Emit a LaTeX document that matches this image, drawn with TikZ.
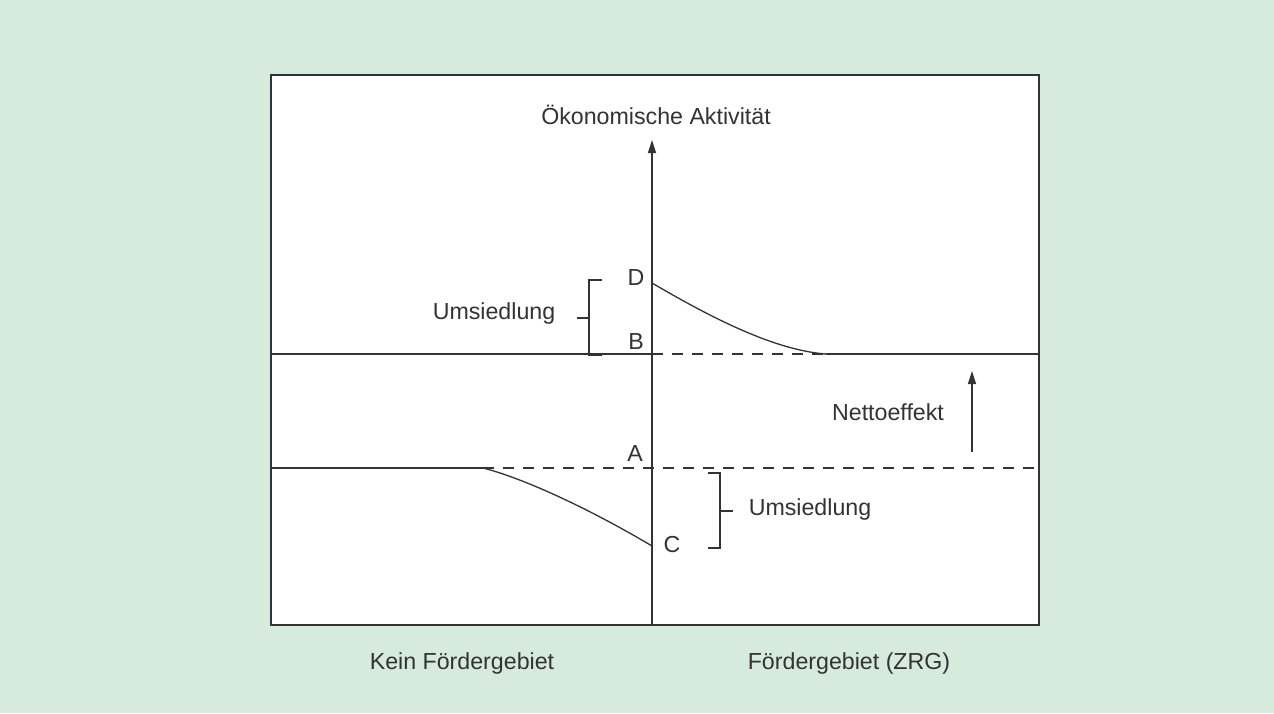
\documentclass[tikz,border=0pt]{standalone}
\usepackage{fontspec}
\setmainfont{Liberation Sans}
\usetikzlibrary{arrows.meta, positioning}
\definecolor{bgmint}{RGB}{214,235,221}
\definecolor{inkgray}{RGB}{51,51,51}

\begin{document}
\begin{tikzpicture}[
  x=0.5pt, y=-0.5pt,
  lbl/.style={inner sep=0pt, text=inkgray, font=\fontsize{11.6}{14}\selectfont},
  axis/.style={draw=inkgray, line width=0.65pt},
  curve/.style={draw=inkgray, line width=0.65pt},
  dashline/.style={draw=inkgray, line width=0.65pt, dash pattern=on 5.5pt off 4.5pt},
  arrow/.style={-{Triangle[length=6.5pt, width=4pt]}, axis},
  brace/.style={draw=inkgray, line width=0.6pt},
]
  \useasboundingbox[fill=bgmint] (0,0) rectangle (1274,713);

  % Frame
  \draw[fill=white, draw=inkgray, line width=1pt] (271,75) rectangle (1039,625);

  % Key points
  \coordinate (origin) at (652,625);
  \coordinate (top) at (652,140);
  \coordinate (upLeft) at (271,354);
  \coordinate (pB) at (652,354);
  \coordinate (pD) at (652,283);
  \coordinate (upEnd) at (826,354);
  \coordinate (upRight) at (1039,354);
  \coordinate (lowLeft) at (271,468);
  \coordinate (lowStart) at (483,468);
  \coordinate (pA) at (652,468);
  \coordinate (pC) at (652,546);
  \coordinate (lowRight) at (1039,468);

  % Axis
  \draw[arrow] (origin) -- (top);
  \node[lbl] (ylabel) at (656,115) {Ökonomische Aktivität};

  % Upper level
  \draw[axis] (upLeft) -- (pB);
  \draw[dashline] (pB) -- (upEnd);
  \draw[axis] (upEnd) -- (upRight);
  \draw[curve] (pD) .. controls (700,311) and (770,350) .. (upEnd);

  % Lower level
  \draw[axis] (lowLeft) -- (lowStart);
  \draw[dashline] (lowStart) -- (lowRight);
  \draw[curve] (lowStart) .. controls (530,480) and (600,515) .. (pC);

  % Point labels
  \node[lbl] (labD) at (636,278) {D};
  \node[lbl] (labB) at (636,342) {B};
  \node[lbl] (labA) at (635,454) {A};
  \node[lbl] (labC) at (672,545) {C};

  % Brackets
  \draw[brace] (602,280) -- (589,280) -- (589,355) -- (602,355);
  \draw[brace] (589,318) -- (577,318);
  \node[lbl] (relocUp) at (494,313) {Umsiedlung};

  \draw[brace] (708,473) -- (720,473) -- (720,548) -- (708,548);
  \draw[brace] (720,511) -- (733,511);
  \node[lbl] (relocLow) at (810,509) {Umsiedlung};

  % Net effect
  \coordinate (netFoot) at (972,452);
  \coordinate (netTip) at (972,371);
  \draw[arrow] (netFoot) -- (netTip);
  \node[lbl] (net) at (888,412) {Nettoeffekt};

  % Region labels
  \node[lbl] (noArea) at (462,663) {Kein Fördergebiet};
  \node[lbl] (area) at (849,663) {Fördergebiet (ZRG)};
\end{tikzpicture}
\end{document}
